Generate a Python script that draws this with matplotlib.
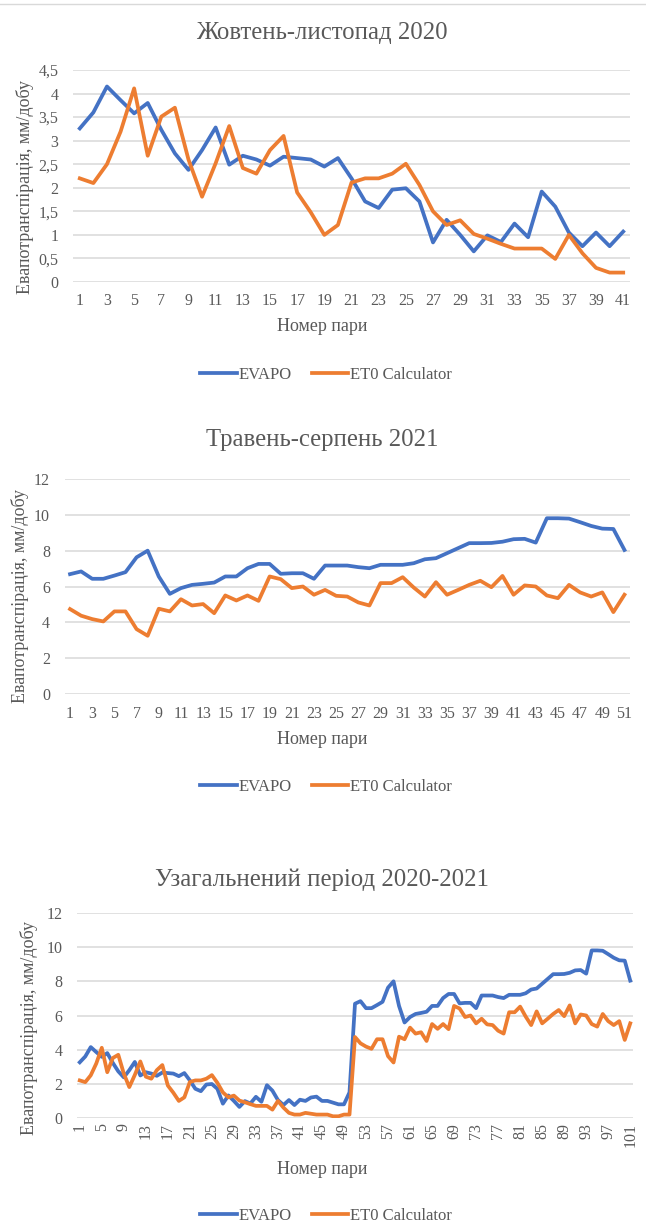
import matplotlib.pyplot as plt
from matplotlib.lines import Line2D
import numpy as np

plt.rcParams['font.family'] = ['Liberation Serif', 'DejaVu Serif']

# ---------------------------------------------------------------
# Data
# ---------------------------------------------------------------

# Жовтень-листопад 2020, pairs 1..41
oct_evapo = [3.26, 3.6, 4.15, 3.86, 3.58, 3.8, 3.23, 2.73, 2.38, 2.8,
             3.28, 2.49, 2.68, 2.6, 2.47, 2.66, 2.63, 2.6, 2.45, 2.63,
             2.2, 1.71, 1.57, 1.96, 1.99, 1.71, 0.84, 1.32, 1.0, 0.65,
             0.99, 0.85, 1.24, 0.95, 1.92, 1.6, 1.05, 0.76, 1.05, 0.76,
             1.07]
oct_et0 = [2.2, 2.1, 2.5, 3.19, 4.11, 2.68, 3.51, 3.7, 2.6, 1.81,
           2.52, 3.31, 2.42, 2.3, 2.8, 3.1, 1.9, 1.48, 1.0, 1.21,
           2.11, 2.2, 2.2, 2.3, 2.51, 2.06, 1.5, 1.21, 1.31, 1.02,
           0.92, 0.81, 0.71, 0.71, 0.71, 0.49, 1.0, 0.61, 0.3, 0.2,
           0.2]

# extra autumn pairs that only appear in the combined chart (42..50)
tail_evapo = [1.0, 1.2, 1.25, 1.0, 1.0, 0.9, 0.8, 0.8, 1.5]
tail_et0 = [0.3, 0.25, 0.2, 0.2, 0.2, 0.1, 0.1, 0.2, 0.2]

# Травень-серпень 2021, pairs 1..51
sum_evapo = [6.69, 6.84, 6.43, 6.43, 6.61, 6.8, 7.63, 8.0, 6.56, 5.59,
             5.91, 6.09, 6.15, 6.22, 6.56, 6.56, 7.02, 7.26, 7.26, 6.71,
             6.74, 6.74, 6.43, 7.17, 7.17, 7.17, 7.08, 7.02, 7.21, 7.21,
             7.21, 7.3, 7.52, 7.58, 7.86, 8.14, 8.42, 8.42, 8.43, 8.5,
             8.64, 8.66, 8.45, 9.81, 9.81, 9.79, 9.59, 9.38, 9.23, 9.21,
             8.04]
sum_et0 = [4.74, 4.37, 4.18, 4.05, 4.61, 4.61, 3.62, 3.25, 4.76, 4.61,
           5.29, 4.94, 5.02, 4.51, 5.5, 5.22, 5.5, 5.2, 6.56, 6.41,
           5.91, 6.0, 5.54, 5.81, 5.48, 5.44, 5.11, 4.94, 6.19, 6.19,
           6.52, 5.94, 5.44, 6.24, 5.54, 5.81, 6.09, 6.32, 5.96, 6.59,
           5.54, 6.06, 6.0, 5.5, 5.35, 6.09, 5.67, 5.44, 5.67, 4.57,
           5.54]

all_evapo = oct_evapo + tail_evapo + sum_evapo
all_et0 = oct_et0 + tail_et0 + sum_et0

titles = ["Жовтень-листопад 2020", "Травень-серпень 2021",
          "Узагальнений період 2020-2021"]
ylabel = "Евапотранспірація, мм/добу"
xlabel = "Номер пари"
series_names = ["EVAPO", "ET0 Calculator"]

# ---------------------------------------------------------------
# Layout (pixel positions of the reference)
# ---------------------------------------------------------------
W, H = 646, 1227
BLUE = "#4472C4"
ORANGE = "#ED7D31"
GREY = "#595959"
GRID = "#D9D9D9"
LW = 2.7

fig = plt.figure(figsize=(W / 100, H / 100), dpi=100)


def px_axes(left, top, right, bottom):
    return fig.add_axes([left / W, 1 - bottom / H, (right - left) / W, (bottom - top) / H])


panels = [
    dict(ev=oct_evapo, et=oct_et0, box=(73, 70, 630, 282), ymax=4.5, ystep=0.5,
         xstep=2, rot=0, tpad=8, title_y=33, ylab_x=25, ylab_y=187,
         xlab_y=327, leg_y=375),
    dict(ev=sum_evapo, et=sum_et0, box=(64.5, 479, 630, 694), ymax=12, ystep=2,
         xstep=2, rot=0, tpad=8.5, title_y=440, ylab_x=20, ylab_y=596,
         xlab_y=740, leg_y=787),
    dict(ev=all_evapo, et=all_et0, box=(77, 913, 633, 1118), ymax=12, ystep=2,
         xstep=4, rot=90, tpad=3.5, title_y=880, ylab_x=29, ylab_y=1028,
         xlab_y=1170, leg_y=1216),
]

for i, p in enumerate(panels):
    ax = px_axes(*p["box"])
    n = len(p["ev"])
    x = np.arange(1, n + 1)
    ax.plot(x, p["ev"], color=BLUE, lw=LW, solid_joinstyle="round")
    ax.plot(x, p["et"], color=ORANGE, lw=LW, solid_joinstyle="round")

    ax.set_xlim(0.5, n + 0.5)
    ax.set_ylim(0, p["ymax"])
    yt = np.arange(0, p["ymax"] + 1e-9, p["ystep"])
    ax.set_yticks(yt)
    ax.set_yticklabels([("%g" % v).replace(".", ",") for v in yt])
    xt = np.arange(1, n + 1, p["xstep"])
    ax.set_xticks(xt)
    ax.set_xticklabels([str(v) for v in xt], rotation=p["rot"])

    ax.grid(axis="y", color=GRID, lw=1.1)
    ax.set_axisbelow(True)
    for s in ax.spines.values():
        s.set_visible(False)
    ax.tick_params(axis="both", length=0, labelsize=11.5, colors=GREY)
    ax.tick_params(axis="y", pad=10.5)
    ax.tick_params(axis="x", pad=p["tpad"])

    cx = 322
    fig.text(cx / W, 1 - p["title_y"] / H, titles[i], ha="center", va="center",
             fontsize=17.8, color=GREY)
    fig.text(p["ylab_x"] / W, 1 - p["ylab_y"] / H, ylabel, rotation=90,
             ha="center", va="center", fontsize=13, color=GREY)
    fig.text(cx / W, 1 - p["xlab_y"] / H, xlabel, ha="center", va="center",
             fontsize=13, color=GREY)

    handles = [Line2D([], [], color=BLUE, lw=LW),
               Line2D([], [], color=ORANGE, lw=LW)]
    leg = fig.legend(handles, series_names, loc="center",
                     bbox_to_anchor=(326 / W, 1 - p["leg_y"] / H), ncol=2,
                     frameon=False, fontsize=12, handlelength=2.2,
                     handletextpad=0.1, columnspacing=1.2)
    for t in leg.get_texts():
        t.set_color(GREY)

# thin border line at the very top of the page
fig.add_artist(Line2D([0, 1], [1 - 4 / H, 1 - 4 / H], color=GRID, lw=1.0))

fig.savefig("out.png", dpi=100)
